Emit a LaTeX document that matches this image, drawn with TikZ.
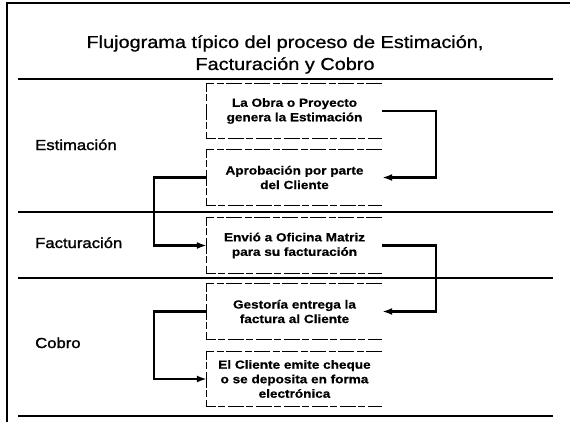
\documentclass[tikz,border=0pt]{standalone}
\usepackage{fontspec}
\setmainfont{Liberation Sans}
\newfontfamily\wf[FakeStretch=1.15,FakeBold=0.8]{Liberation Sans}
\newfontfamily\wfl[FakeStretch=1.15,FakeBold=1.6]{Liberation Sans}
\newfontfamily\wfb[FakeStretch=1.15,FakeBold=0.6]{Liberation Sans Bold}
\usetikzlibrary{arrows.meta}
\begin{document}
\begin{tikzpicture}[x=1pt,y=-1pt,
  titletext/.style={anchor=base,inner sep=0pt,font=\wf\fontsize{17.3}{20}\selectfont},
  lanetext/.style={anchor=base west,inner sep=0pt,font=\wfl\fontsize{14.5}{17}\selectfont},
  stepbox/.style={minimum width=175pt,minimum height=55pt,inner sep=0pt,align=center,
    font=\wfb\fontsize{11.8}{14.5}\selectfont},
  boxedge/.style={line width=0.8pt,dash pattern=on 16pt off 2pt on 7pt off 3pt},
  sepline/.style={line width=1.6pt},
  flow/.style={line width=2.2pt,-{Latex[length=10pt,width=7pt]}},
]
\useasboundingbox (0,0) rectangle (570,425);
% frame
\draw[line width=1.8pt] (7,422) -- (7,3) -- (570,3);
\draw[sepline] (18,79) -- (553,79);
\draw[sepline] (18,212) -- (553,212);
\draw[sepline] (18,278) -- (553,278);
\draw[sepline] (18,416) -- (553,416);
% title
\node[titletext] (t1) at (285,48) {Flujograma típico del proceso de Estimación,};
\node[titletext] (t2) at (285,70) {Facturación y Cobro};
% lane labels
\node[lanetext] (l1) at (35,150) {Estimación};
\node[lanetext] (l2) at (35,248) {Facturación};
\node[lanetext] (l3) at (35,348) {Cobro};
% boxes
\node[stepbox] (b1) at (294.5,111) {La Obra o Proyecto\\genera la Estimación};
\node[stepbox] (b2) at (294.5,177.5) {Aprobación por parte\\del Cliente};
\node[stepbox] (b3) at (294.5,245.5) {Envió a Oficina Matriz\\para su facturación};
\node[stepbox] (b4) at (294.5,311.5) {Gestoría entrega la\\factura al Cliente};
\node[stepbox] (b5) at (294.5,379) {El Cliente emite cheque\\o se deposita en forma\\electrónica};
\foreach \b in {b1,b2,b3,b4,b5}{
  \draw[boxedge] (\b.north east) -- (\b.north west) -- (\b.south west) -- (\b.south east);
}
% connectors
\draw[flow] (b1.east) -- ++(54,0) |- (b2.east);
\draw[flow] (b2.west) -- ++(-53,0) |- (b3.west);
\draw[flow] (b3.east) -- ++(54,0) |- (b4.east);
\draw[flow] (b4.west) -- ++(-53,0) |- (b5.west);
\end{tikzpicture}
\end{document}
